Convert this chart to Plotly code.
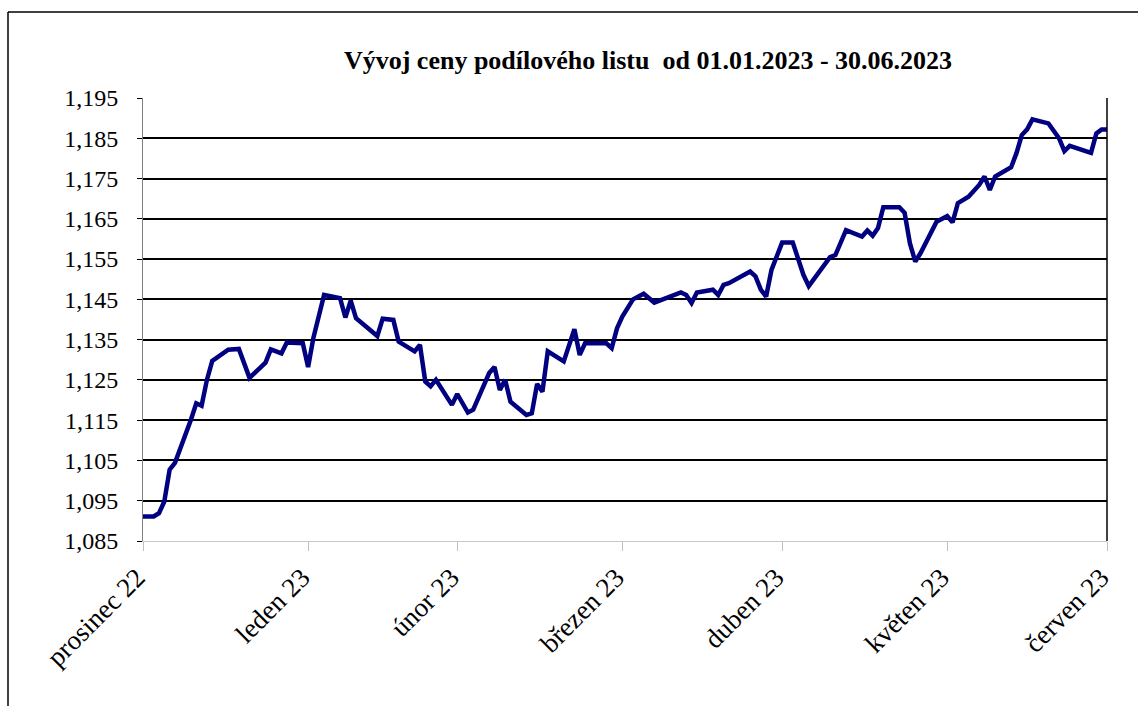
import plotly.graph_objects as go

# ---- data ----
dates = [
    "2023-01-01", "2023-01-03", "2023-01-04", "2023-01-05", "2023-01-06", "2023-01-07",
    "2023-01-10", "2023-01-11", "2023-01-12", "2023-01-13", "2023-01-14", "2023-01-17",
    "2023-01-19", "2023-01-21", "2023-01-24", "2023-01-25", "2023-01-27", "2023-01-28",
    "2023-01-31", "2023-02-01", "2023-02-02", "2023-02-04", "2023-02-07", "2023-02-08",
    "2023-02-09", "2023-02-10", "2023-02-14", "2023-02-15", "2023-02-17", "2023-02-18",
    "2023-02-21", "2023-02-22", "2023-02-23", "2023-02-24", "2023-02-25", "2023-02-28",
    "2023-03-01", "2023-03-03", "2023-03-04", "2023-03-07", "2023-03-08", "2023-03-09",
    "2023-03-10", "2023-03-11", "2023-03-14", "2023-03-15", "2023-03-16", "2023-03-17",
    "2023-03-18", "2023-03-21", "2023-03-23", "2023-03-24", "2023-03-25", "2023-03-29",
    "2023-03-30", "2023-03-31", "2023-04-01", "2023-04-03", "2023-04-05", "2023-04-07",
    "2023-04-12", "2023-04-13", "2023-04-14", "2023-04-15", "2023-04-18", "2023-04-19",
    "2023-04-20", "2023-04-21", "2023-04-25", "2023-04-26", "2023-04-27", "2023-04-28",
    "2023-04-29", "2023-05-01", "2023-05-03", "2023-05-05", "2023-05-06", "2023-05-10",
    "2023-05-11", "2023-05-13", "2023-05-16", "2023-05-17", "2023-05-18", "2023-05-19",
    "2023-05-20", "2023-05-23", "2023-05-24", "2023-05-25", "2023-05-26", "2023-05-27",
    "2023-05-30", "2023-06-01", "2023-06-02", "2023-06-03", "2023-06-05", "2023-06-07",
    "2023-06-08", "2023-06-09", "2023-06-10", "2023-06-13", "2023-06-14", "2023-06-15",
    "2023-06-16", "2023-06-17", "2023-06-20", "2023-06-22", "2023-06-23", "2023-06-24",
    "2023-06-28", "2023-06-29", "2023-06-30", "2023-07-01",
]
prices = [
    1.0911, 1.0911, 1.0919, 1.0948, 1.1027, 1.1044,
    1.1151, 1.1192, 1.1186, 1.1250, 1.1297, 1.1325,
    1.1327, 1.1255, 1.1293, 1.1326, 1.1316, 1.1343,
    1.1341, 1.1282, 1.1355, 1.1461, 1.1453, 1.1405,
    1.1447, 1.1403, 1.1359, 1.1402, 1.1399, 1.1345,
    1.1321, 1.1337, 1.1246, 1.1234, 1.1250, 1.1188,
    1.1215, 1.1169, 1.1176, 1.1267, 1.1282, 1.1225,
    1.1250, 1.1196, 1.1163, 1.1167, 1.1240, 1.1221,
    1.1321, 1.1296, 1.1376, 1.1312, 1.1341, 1.1341,
    1.1329, 1.1378, 1.1407, 1.1450, 1.1464, 1.1442,
    1.1467, 1.1461, 1.1441, 1.1467, 1.1474, 1.1461,
    1.1486, 1.1490, 1.1519, 1.1507, 1.1474, 1.1457,
    1.1523, 1.1591, 1.1591, 1.1511, 1.1483, 1.1555,
    1.1560, 1.1622, 1.1606, 1.1621, 1.1608, 1.1627,
    1.1679, 1.1679, 1.1665, 1.1589, 1.1544, 1.1565,
    1.1643, 1.1657, 1.1641, 1.1689, 1.1705, 1.1734,
    1.1755, 1.1722, 1.1755, 1.1778, 1.1813, 1.1858,
    1.1872, 1.1897, 1.1887, 1.1850, 1.1818, 1.1831,
    1.1814, 1.1862, 1.1872, 1.1872,
]

x_tick_dates = ["2023-01-01", "2023-02-01", "2023-03-01", "2023-04-01",
                "2023-05-01", "2023-06-01", "2023-07-01"]
x_tick_labels = ["prosinec 22", "leden 23", "únor 23", "březen 23",
                 "duben 23", "květen 23", "červen 23"]
y_ticks = [1.085, 1.095, 1.105, 1.115, 1.125, 1.135, 1.145, 1.155,
           1.165, 1.175, 1.185, 1.195]
y_grid = y_ticks[1:]

title_text = "Vývoj ceny podílového listu  od 01.01.2023 - 30.06.2023"

FONT = "Liberation Serif, Times New Roman, serif"

fig = go.Figure()
fig.add_trace(go.Scatter(
    x=dates, y=prices, mode="lines",
    line=dict(color="#000080", width=4.5),
    showlegend=False, hoverinfo="x+y",
))

fig.update_layout(
    width=1138, height=706, autosize=False,
    margin=dict(l=143, r=31, t=98, b=165),
    paper_bgcolor="white", plot_bgcolor="white",
    separators=", ",
    font=dict(family=FONT, color="black"),
    title=dict(
        text="<b>" + title_text + "</b>",
        xref="container", yref="container",
        x=648 / 1138, y=1 - 60 / 706,
        xanchor="center", yanchor="middle",
        font=dict(family=FONT, size=26, color="black"),
    ),
    xaxis=dict(
        type="date",
        range=["2023-01-01", "2023-07-01"],
        tickmode="array", tickvals=x_tick_dates, ticktext=x_tick_labels,
        tickangle=-45,
        ticks="outside", ticklen=9, tickcolor="#c0c0c0", tickwidth=1,
        ticklabelshift=-6,
        showline=True, linecolor="#c8c8c8", linewidth=1,
        showgrid=False, zeroline=False,
        tickfont=dict(family=FONT, size=27, color="black"),
    ),
    yaxis=dict(
        range=[1.085, 1.195],
        tickmode="array", tickvals=y_ticks, tickformat=".3f",
        ticks="outside", ticklen=5, tickcolor="black", tickwidth=1,
        ticklabelstandoff=14,
        showline=True, linecolor="#808080", linewidth=1,
        showgrid=False, zeroline=False,
        minor=dict(tickmode="array", tickvals=y_grid, showgrid=True,
                   gridcolor="black", gridwidth=2, ticks=""),
        tickfont=dict(family=FONT, size=24, color="black"),
    ),
    shapes=[
        # outer chart frame (left and top edges visible in the reference)
        dict(type="line", xref="paper", yref="paper",
             x0=(8 - 143) / 964, x1=(8 - 143) / 964, y0=-0.5, y1=(541 - 12) / 443,
             line=dict(color="black", width=1.5)),
        dict(type="line", xref="paper", yref="paper",
             x0=(8 - 143) / 964, x1=1.1, y0=(541 - 12) / 443, y1=(541 - 12) / 443,
             line=dict(color="black", width=1.5)),
        # right edge of plot area
        dict(type="line", xref="paper", yref="paper",
             x0=1, x1=1, y0=0, y1=1, line=dict(color="black", width=1.5)),
    ],
)

fig.write_html("out.html", config={"displayModeBar": False},
               post_script="document.body.style.margin='0';")
